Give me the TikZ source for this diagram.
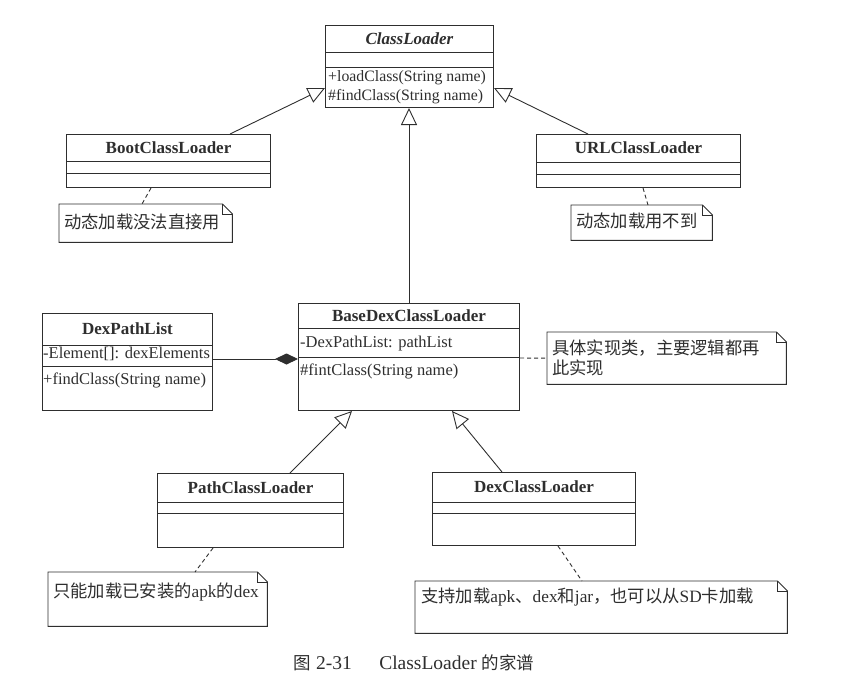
\documentclass[tikz,border=0pt]{standalone}
\usepackage{fontspec}
\setmainfont{Liberation Serif}
\newfontfamily\cjk{Noto Sans CJK SC}
\usetikzlibrary{arrows.meta,calc}
\definecolor{ink}{HTML}{2E2E2E}
\newcommand\foldnote[1]{%
  \draw[notefr] (#1.north west) -- ($(#1.north east)+(-10,0)$) -- ($(#1.north east)+(0,10)$) -- (#1.south east) -- (#1.south west) -- cycle;
  \draw[notefr] ($(#1.north east)+(-10,0)$) -- ($(#1.north east)+(-10,10)$) -- ($(#1.north east)+(0,10)$);}
\begin{document}
\begin{tikzpicture}[x=1pt,y=-1pt,
  every node/.style={text=ink},
  box/.style={draw=ink, line width=1pt, inner sep=0pt, anchor=north west},
  sepline/.style={draw=ink, line width=1pt},
  txt/.style={anchor=west, inner sep=1pt, font=\fontsize{16.5}{18}\selectfont},
  txts/.style={anchor=west, inner sep=1pt, font=\fontsize{15.8}{18}\selectfont},
  ttl/.style={inner sep=0pt, font=\fontsize{17}{18}\selectfont\bfseries},
  ntxt/.style={anchor=west, inner sep=1pt, align=left, font=\fontsize{17.3}{20.5}\selectfont},
  nbox/.style={draw=none, inner sep=0pt, anchor=north west},
  notefr/.style={draw=ink, line width=0.9pt},
  gen/.style={draw=ink, line width=0.9pt, -{Triangle[open, length=17pt, width=16pt, fill=white]}},
  comp/.style={draw=ink, line width=0.9pt, -{Diamond[length=23pt, width=11pt, fill=ink]}},
  anch/.style={draw=ink, line width=0.9pt, dash pattern=on 4pt off 3pt}
]
\useasboundingbox (0,0) rectangle (848,677);

% ClassLoader
\node[box, minimum width=168pt, minimum height=82pt] (cl) at (325,25) {};
\draw[sepline] ($(cl.north west)+(0,28)$) -- ($(cl.north east)+(0,28)$);
\draw[sepline] ($(cl.north west)+(0,42)$) -- ($(cl.north east)+(0,42)$);
\node[ttl] (clt) at ($(cl.north)+(0,14)$) {\textit{ClassLoader}};
\node[txts] (clm1) at ($(cl.north west)+(2,53)$) {+loadClass(String name)};
\node[txts] (clm2) at ($(cl.north west)+(2,72)$) {\#findClass(String name)};

% BootClassLoader
\node[box, minimum width=204pt, minimum height=53pt] (boot) at (66,134) {};
\draw[sepline] ($(boot.north west)+(0,27)$) -- ($(boot.north east)+(0,27)$);
\draw[sepline] ($(boot.north west)+(0,39)$) -- ($(boot.north east)+(0,39)$);
\node[ttl] (boott) at ($(boot.north)+(0,13.5)$) {BootClassLoader};

% URLClassLoader
\node[box, minimum width=204pt, minimum height=53pt] (url) at (536,134) {};
\draw[sepline] ($(url.north west)+(0,28)$) -- ($(url.north east)+(0,28)$);
\draw[sepline] ($(url.north west)+(0,40)$) -- ($(url.north east)+(0,40)$);
\node[ttl] (urlt) at ($(url.north)+(0,14)$) {URLClassLoader};

% DexPathList
\node[box, minimum width=170pt, minimum height=97pt] (dpl) at (42,313) {};
\draw[sepline] ($(dpl.north west)+(0,32)$) -- ($(dpl.north east)+(0,32)$);
\draw[sepline] ($(dpl.north west)+(0,53)$) -- ($(dpl.north east)+(0,53)$);
\node[ttl] (dplt) at ($(dpl.north)+(0,16)$) {DexPathList};
\node[txt] (dplm1) at ($(dpl.north west)+(0,41)$) {-Element[]: dexElements};
\node[txt] (dplm2) at ($(dpl.north west)+(0,67)$) {+findClass(String name)};

% BaseDexClassLoader
\node[box, minimum width=221pt, minimum height=107pt] (base) at (298,303) {};
\draw[sepline] ($(base.north west)+(0,25)$) -- ($(base.north east)+(0,25)$);
\draw[sepline] ($(base.north west)+(0,54)$) -- ($(base.north east)+(0,54)$);
\node[ttl] (baset) at ($(base.north)+(0,13)$) {BaseDexClassLoader};
\node[txt] (basem1) at ($(base.north west)+(1,41)$) {-DexPathList: pathList};
\node[txt] (basem2) at ($(base.north west)+(1,68)$) {\#fintClass(String name)};

% PathClassLoader
\node[box, minimum width=186pt, minimum height=74pt] (path) at (157,473) {};
\draw[sepline] ($(path.north west)+(0,29)$) -- ($(path.north east)+(0,29)$);
\draw[sepline] ($(path.north west)+(0,40)$) -- ($(path.north east)+(0,40)$);
\node[ttl] (patht) at ($(path.north)+(0,14.5)$) {PathClassLoader};

% DexClassLoader
\node[box, minimum width=203pt, minimum height=73pt] (dex) at (432,472) {};
\draw[sepline] ($(dex.north west)+(0,30)$) -- ($(dex.north east)+(0,30)$);
\draw[sepline] ($(dex.north west)+(0,41)$) -- ($(dex.north east)+(0,41)$);
\node[ttl] (dext) at ($(dex.north)+(0,15)$) {DexClassLoader};

% Notes
\node[nbox, minimum width=173pt, minimum height=38pt] (n1) at (59,204) {};
\foldnote{n1}
\node[ntxt] (n1t) at ($(n1.north west)+(4,18)$) {\cjk 动态加载没法直接用};

\node[nbox, minimum width=141pt, minimum height=35pt] (n2) at (571,205) {};
\foldnote{n2}
\node[ntxt] (n2t) at ($(n2.north west)+(4,16)$) {\cjk 动态加载用不到};

\node[nbox, minimum width=239pt, minimum height=52pt] (n3) at (547,332) {};
\foldnote{n3}
\node[ntxt] (n3t) at ($(n3.north west)+(4,26)$) {\cjk 具体实现类，主要逻辑都再\\\cjk 此实现};

\node[nbox, minimum width=219pt, minimum height=54pt] (n4) at (48,572) {};
\foldnote{n4}
\node[ntxt] (n4t) at ($(n4.north west)+(4,20)$) {{\cjk 只能加载已安装的}apk{\cjk 的}dex};

\node[nbox, minimum width=372pt, minimum height=52pt] (n5) at (415,581) {};
\foldnote{n5}
\node[ntxt] (n5t) at ($(n5.north west)+(5,16)$) {{\cjk 支持加载}apk{\cjk 、}dex{\cjk 和}jar{\cjk ，也可以从}SD{\cjk 卡加载}};

% Connectors
\draw[gen] ($(boot.north west)+(164,0)$) -- ($(cl.north west)+(0,63)$);
\draw[gen] ($(url.north west)+(52,0)$) -- ($(cl.north east)+(0,63)$);
\draw[gen] (base.north) -- (base.north |- cl.south);
\draw[gen] ($(path.north west)+(133,0)$) -- ($(base.south west)+(54,0)$);
\draw[gen] ($(dex.north west)+(70,0)$) -- ($(base.south west)+(154,0)$);
\draw[comp] ($(dpl.north east)+(0,46)$) -- ($(base.north west)+(0,56)$);

\draw[anch] ($(boot.south west)+(85,0)$) -- ($(n1.north west)+(83,0)$);
\draw[anch] ($(url.south west)+(107,0)$) -- ($(n2.north west)+(77,0)$);
\draw[anch] ($(base.north east)+(0,55)$) -- (n3.west);
\draw[anch] ($(path.south west)+(56,0)$) -- ($(n4.north west)+(147,0)$);
\draw[anch] ($(dex.south west)+(126,0)$) -- ($(n5.north west)+(167,0)$);

% Caption
\node[inner sep=0pt, font=\fontsize{19.5}{22}\selectfont] (cap) at (414,663) {{\cjk\fontsize{17.5}{22}\selectfont 图} 2-31\hspace{1.4em}ClassLoader {\cjk\fontsize{17.5}{22}\selectfont 的家谱}};
\end{tikzpicture}
\end{document}
